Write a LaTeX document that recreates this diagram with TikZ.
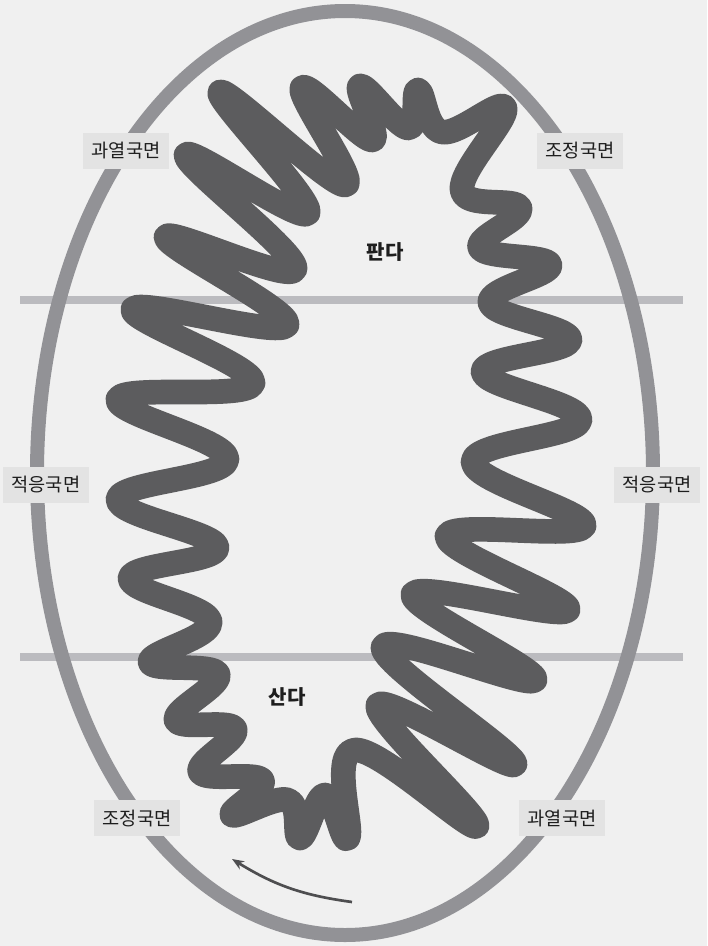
\documentclass[tikz,border=0pt]{standalone}
\usepackage{fontspec}
\setmainfont{Noto Sans CJK KR}
\usepackage{tikz}
\usetikzlibrary{arrows.meta,positioning}
\definecolor{Paper}{HTML}{F0F0F0}
\definecolor{Rim}{HTML}{929296}
\definecolor{Band}{HTML}{BBBBBF}
\definecolor{Wave}{HTML}{5C5C5E}
\definecolor{TagFill}{HTML}{E3E3E3}
\definecolor{Ink}{HTML}{1E1E1E}
\tikzset{
  tag/.style={fill=TagFill,text=Ink,minimum width=65pt,minimum height=27.5pt,inner sep=0pt,font=\fontsize{14}{16}\selectfont},
  market/.style={text=Ink,font=\fontsize{15}{17}\selectfont\bfseries},
  waveLine/.style={draw=Wave,line width=18.5pt,line join=round},
  arrow/.style={-{Stealth[length=9pt,width=7pt]},line width=2pt,draw=Wave!85!black}
}
\begin{document}
\begin{tikzpicture}[x=0.75pt,y=-0.75pt]
  \fill[Paper] (0,0) rectangle (707,946);
  \useasboundingbox (0,0) rectangle (707,946);
  % phase bands
  \draw[Band,line width=5.5pt] (20,300) -- (683,300);
  \draw[Band,line width=5.5pt] (20,657) -- (683,657);
  % cycle rim
  \draw[Rim,line width=10.5pt] (345,473) ellipse [x radius=308,y radius=462];
  % market swing
  \draw[waveLine] plot[smooth cycle,tension=0.7] coordinates {
    (220,92) (345,185) (302,88) (372,140) (360,86) (408,128) (418,90) (442,132)
    (505,108) (462,190) (520,208) (480,248) (550,265) (490,303) (570,340) (483,372)
    (580,420) (473,462) (584,526) (447,536) (568,610) (413,594) (535,680) (383,647)
    (515,764) (378,705) (477,826) (355,750) (348,838) (325,795) (300,838) (288,800)
    (232,815) (262,780) (200,772) (235,729) (176,720) (218,674) (150,662) (210,621)
    (130,578) (217,547) (118,499) (227,459) (118,399) (253,383) (133,309) (287,325)
    (166,237) (295,269) (186,155) (308,213)};
  % labels
  \node[tag] (hotUp) at (126,151) {과열국면};
  \node[tag] (fixUp) at (580,151) {조정국면};
  \node[tag] (fitL) at (46,485) {적응국면};
  \node[tag] (fitR) at (657,485) {적응국면};
  \node[tag] (fixDn) at (137,818) {조정국면};
  \node[tag] (hotDn) at (562,818) {과열국면};
  \node[market] (sell) at (385,252) {판다};
  \node[market] (buy) at (287,697) {산다};
  % direction
  \coordinate (runA) at (352,902);
  \coordinate (runB) at (232,859);
  \draw[arrow] (runA) to[bend left=12] (runB);
\end{tikzpicture}
\end{document}
